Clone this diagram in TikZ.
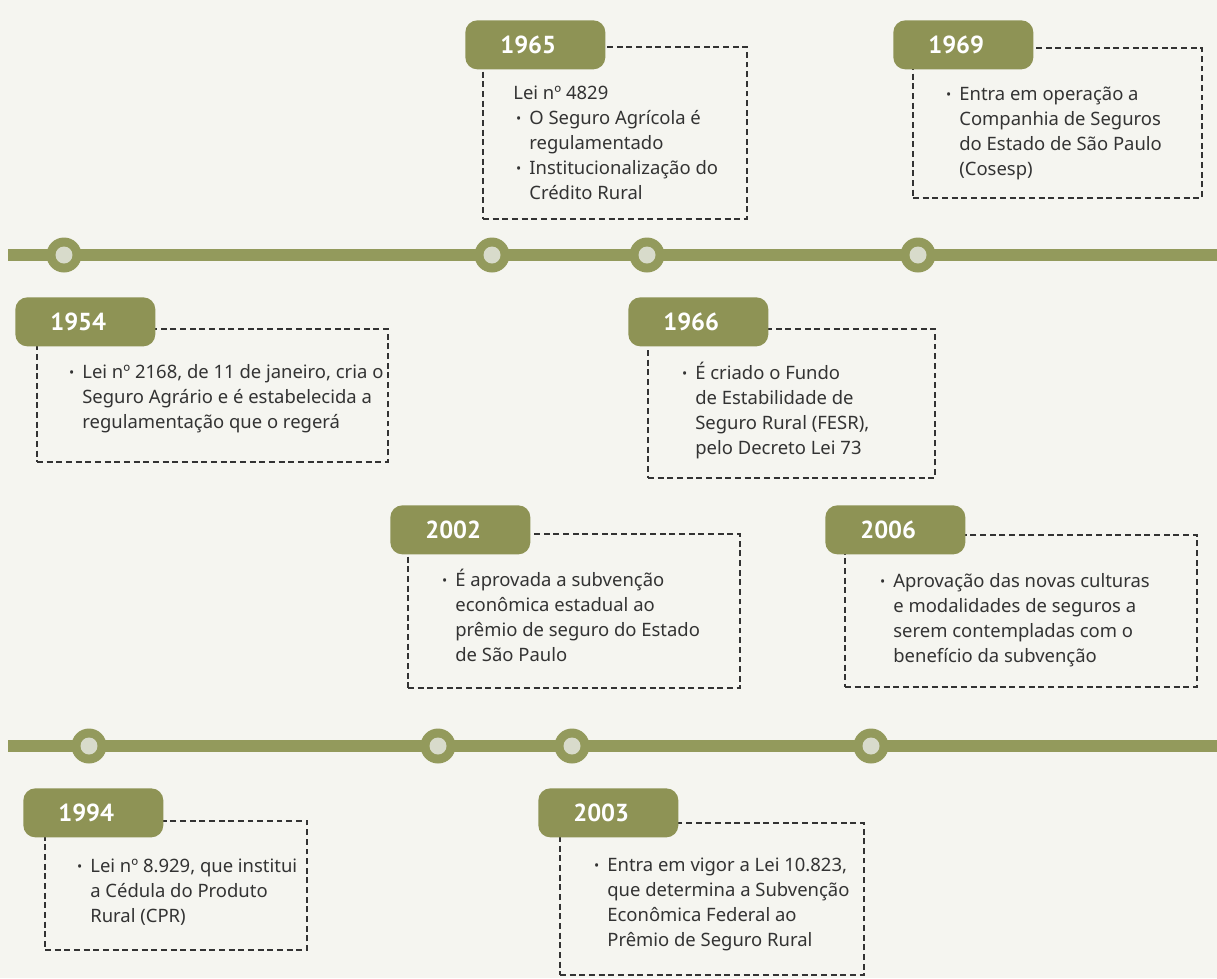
\documentclass[tikz,border=0pt]{standalone}
\usepackage{fontspec}
\setmainfont{Noto Sans}
\newfontfamily\yearfont{PT Sans}
\usepackage{xcolor}
\usepackage{tikz}
\usetikzlibrary{positioning, fit}

\definecolor{bgpaper}{HTML}{F5F5F0}
\definecolor{olive}{HTML}{8E9355}
\definecolor{oliveline}{HTML}{939A5C}
\definecolor{dotcore}{HTML}{D8DBCB}
\definecolor{inkgray}{HTML}{333333}

\newcommand{\evbullet}{\llap{\raisebox{0.15ex}{\scalebox{0.75}{\textbullet}}\hspace{0.16cm}}}
\newcommand{\evlead}[1]{\rlap{\hspace{-0.32cm}#1}}

\begin{document}
\begin{tikzpicture}[
  x=0.02cm, y=-0.02cm,
  yeartab/.style={rectangle, rounded corners=0.24cm, fill=olive, text=white,
    anchor=north west, minimum width=2.8cm, minimum height=0.98cm,
    inner xsep=0.7cm, text width=1.4cm, align=left,
    font=\yearfont\fontsize{14}{14}\selectfont\bfseries},
  eventbox/.style={rectangle, draw=inkgray, line width=1.1pt,
    dash pattern=on 3.4pt off 2.1pt, inner sep=0pt, outer sep=0pt},
  eventtext/.style={anchor=north west, inner sep=0pt, align=left, text=inkgray,
    font=\fontsize{10.5}{14.2}\selectfont},
  timeline/.style={draw=oliveline, line width=0.24cm},
  milestone/.style={circle, fill=oliveline, minimum size=0.7cm, inner sep=0pt,
    path picture={\fill[dotcore] (path picture bounding box.center) circle (0.17cm);}}
]
  % Paper
  \useasboundingbox (0,0) rectangle (1217,978);
  \fill[bgpaper] (0,0) rectangle (1217,978);

  % Timelines
  \coordinate (upperwest) at (8,255);
  \coordinate (uppereast) at (1217,255);
  \coordinate (lowerwest) at (8,746);
  \coordinate (lowereast) at (1217,746);
  \draw[timeline] (upperwest) -- (uppereast);
  \draw[timeline] (lowerwest) -- (lowereast);

  % Milestones
  \node[milestone] (m1954) at (64,255) {};
  \node[milestone] (m1965) at (492,255) {};
  \node[milestone] (m1966) at (647,255) {};
  \node[milestone] (m1969) at (918,255) {};
  \node[milestone] (m1994) at (89,746) {};
  \node[milestone] (m2002) at (438,746) {};
  \node[milestone] (m2003) at (572,746) {};
  \node[milestone] (m2006) at (871,746) {};

  % Dashed boxes
  \node[eventbox, fit={(483,47) (747,219)}] (b1965) {};
  \node[eventbox, fit={(913,48) (1202,198)}] (b1969) {};
  \node[eventbox, fit={(37,329) (388,462)}] (b1954) {};
  \node[eventbox, fit={(648,329) (935,478)}] (b1966) {};
  \node[eventbox, fit={(408,534) (740,688)}] (b2002) {};
  \node[eventbox, fit={(845,535) (1197,687)}] (b2006) {};
  \node[eventbox, fit={(45,821) (307,950)}] (b1994) {};
  \node[eventbox, fit={(560,823) (864,975)}] (b2003) {};

  % Year tabs
  \node[yeartab] (y1965) at (465,20) {1965};
  \node[yeartab] (y1969) at (893,20) {1969};
  \node[yeartab] (y1954) at (15,297) {1954};
  \node[yeartab] (y1966) at (628,297) {1966};
  \node[yeartab] (y2002) at (390,505) {2002};
  \node[yeartab] (y2006) at (825,505) {2006};
  \node[yeartab] (y1994) at (23,788) {1994};
  \node[yeartab] (y2003) at (538,788) {2003};

  % Texts
  \node[eventtext] (t1965) at (529,82) {\strut\evlead{Lei nº 4829}\\
    \evbullet O Seguro Agrícola é\\ regulamentado\\
    \evbullet Institucionalização do\\ Crédito Rural};
  \node[eventtext] (t1969) at (959,83) {\strut\evbullet Entra em operação a\\
    Companhia de Seguros\\ do Estado de São Paulo\\ (Cosesp)};
  \node[eventtext] (t1954) at (82,361) {\strut\evbullet Lei nº 2168, de 11 de janeiro, cria o\\
    Seguro Agrário e é estabelecida a\\ regulamentação que o regerá};
  \node[eventtext] (t1966) at (695,362) {\strut\evbullet É criado o Fundo\\
    de Estabilidade de\\ Seguro Rural (FESR),\\ pelo Decreto Lei 73};
  \node[eventtext] (t2002) at (455,569) {\strut\evbullet É aprovada a subvenção\\
    econômica estadual ao\\ prêmio de seguro do Estado\\ de São Paulo};
  \node[eventtext] (t2006) at (893,570) {\strut\evbullet Aprovação das novas culturas\\
    e modalidades de seguros a\\ serem contempladas com o\\ benefício da subvenção};
  \node[eventtext] (t1994) at (90,855) {\strut\evbullet Lei nº 8.929, que institui\\
    a Cédula do Produto\\ Rural (CPR)};
  \node[eventtext] (t2003) at (607,854) {\strut\evbullet Entra em vigor a Lei 10.823,\\
    que determina a Subvenção\\ Econômica Federal ao\\ Prêmio de Seguro Rural};
\end{tikzpicture}
\end{document}
